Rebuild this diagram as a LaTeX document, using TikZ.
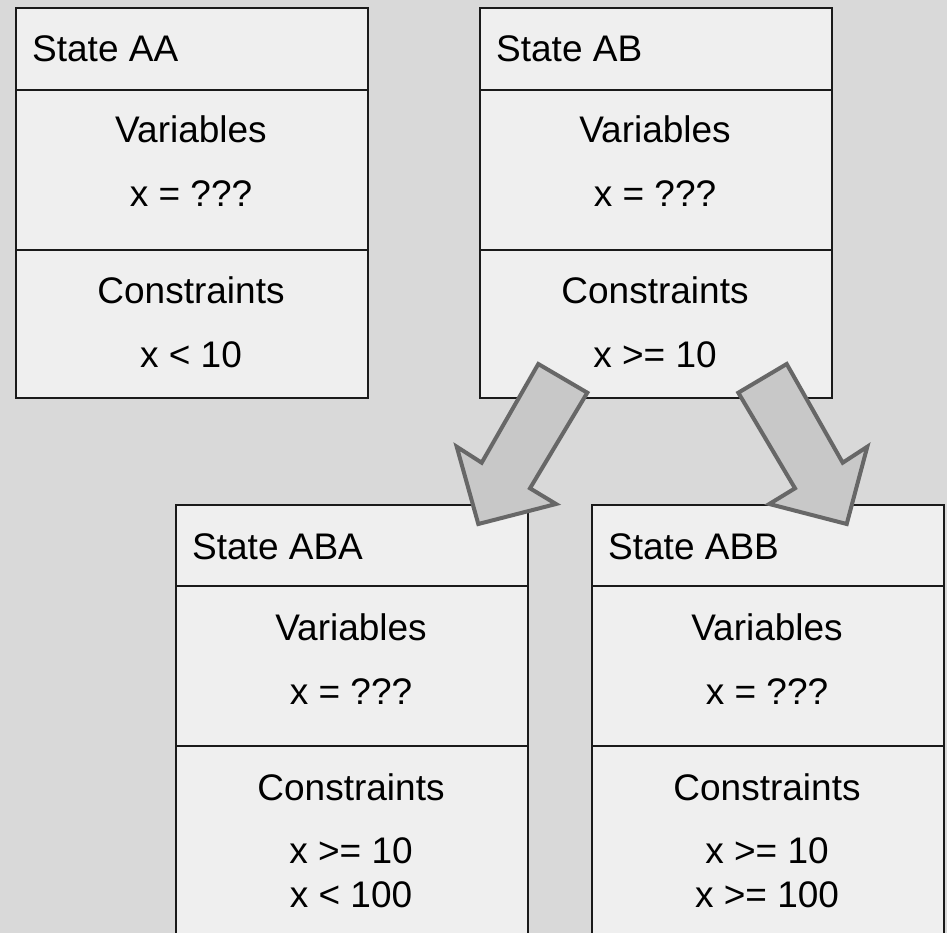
\documentclass[tikz,border=0pt]{standalone}
\usepackage{fontspec}
\setmainfont{Liberation Sans}
\definecolor{bggray}{HTML}{D9D9D9}
\definecolor{boxfill}{HTML}{EFEFEF}
\definecolor{boxline}{HTML}{1A1A1A}
\definecolor{arrfill}{HTML}{C8C8C8}
\definecolor{arrline}{HTML}{676767}
\begin{document}
\begin{tikzpicture}[x=1pt,y=-1pt,
  statebox/.style={draw=boxline, fill=boxfill, line width=2pt, rectangle, inner sep=0pt, anchor=north west, minimum width=352pt},
  divider/.style={draw=boxline, line width=2pt},
  txt/.style={inner sep=0pt, anchor=base, font=\fontsize{37pt}{44pt}\selectfont},
  title/.style={inner sep=0pt, anchor=base west, font=\fontsize{37pt}{44pt}\selectfont},
  blockarrow/.style={draw=arrline, fill=arrfill, line width=4pt, line join=miter}
]
\useasboundingbox (0,0) rectangle (947,933);
\fill[bggray] (0,0) rectangle (947,933);
\clip (0,0) rectangle (947,933);

% boxes
\node[statebox, minimum height=390pt] (AA) at (15,7) {};
\node[statebox, minimum height=390pt] (AB) at (479,7) {};
\node[statebox, minimum height=460pt] (ABA) at (175,504) {};
\node[statebox, minimum height=460pt] (ABB) at (591,504) {};

% dividers
\foreach \b/\h in {AA/83, AB/83, ABA/82, ABB/82}{
  \draw[divider] ([yshift=-\h pt]\b.north west) -- ([yshift=-\h pt]\b.north east);
  \draw[divider] ([yshift=-\h pt-160pt]\b.north west) -- ([yshift=-\h pt-160pt]\b.north east);
}

% State AA
\node[title] (AAt) at (32,62) {State AA};
\node[txt] (AAv) at (191,143) {Variables};
\node[txt] (AAx) at (191,207) {x = ???};
\node[txt] (AAc) at (191,303) {Constraints};
\node[txt] (AAc1) at (191,367) {x < 10};

% State AB
\node[title] (ABt) at (496,62) {State AB};
\node[txt] (ABv) at (655,143) {Variables};
\node[txt] (ABx) at (655,207) {x = ???};
\node[txt] (ABc) at (655,303) {Constraints};
\node[txt] (ABc1) at (655,367) {x >= 10};

% State ABA
\node[title] (ABAt) at (192,559) {State ABA};
\node[txt] (ABAv) at (351,640) {Variables};
\node[txt] (ABAx) at (351,704) {x = ???};
\node[txt] (ABAc) at (351,800) {Constraints};
\node[txt] (ABAc1) at (351,863) {x >= 10};
\node[txt] (ABAc2) at (351,907) {x < 100};

% State ABB
\node[title] (ABBt) at (608,559) {State ABB};
\node[txt] (ABBv) at (767,640) {Variables};
\node[txt] (ABBx) at (767,704) {x = ???};
\node[txt] (ABBc) at (767,800) {Constraints};
\node[txt] (ABBc1) at (767,863) {x >= 10};
\node[txt] (ABBc2) at (767,907) {x >= 100};

% block arrows
\draw[blockarrow] (538.3,364) -- (587.3,392.7) -- (530,488.3) -- (556,504) -- (478.3,524) -- (456.7,446.7) -- (481.7,462.7) -- cycle;
\draw[blockarrow] (738.3,392.7) -- (786.7,364) -- (842.7,462.7) -- (867.3,446.7) -- (846.7,524) -- (769.3,504) -- (795,488.3) -- cycle;
\end{tikzpicture}
\end{document}
